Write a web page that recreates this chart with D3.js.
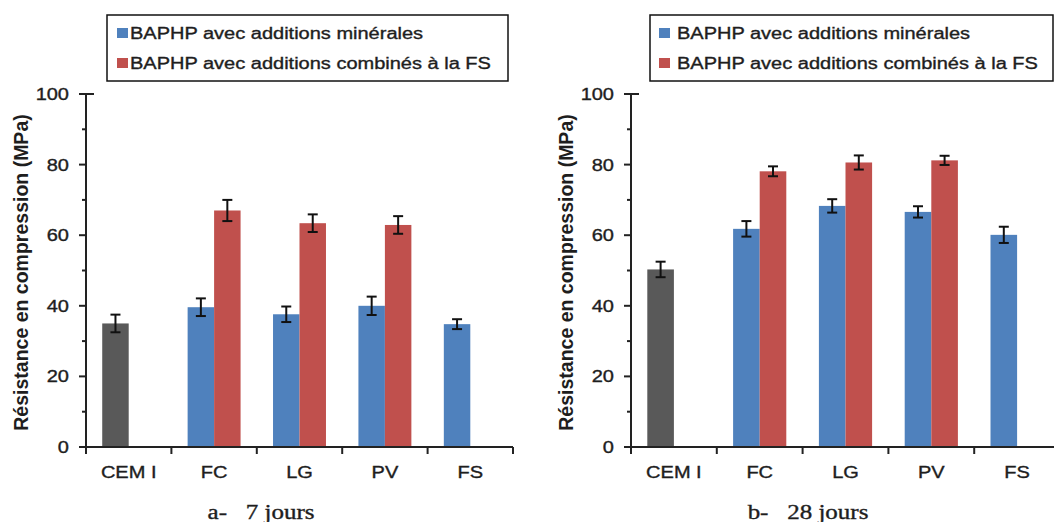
<!DOCTYPE html>
<html>
<head>
<meta charset="utf-8">
<script src="https://cdn.jsdelivr.net/npm/d3@7"></script>
<style>
  body { margin: 0; background: #fff; }
  svg { display: block; }
</style>
</head>
<body>
<svg id="chart" width="1054" height="522"></svg>
<script>
// categories and series
const categories = ["CEM I", "FC", "LG", "PV", "FS"];
const seriesNames = ["BAPHP avec additions minérales", "BAPHP avec additions combinés à la FS"];
const seriesColors = ["#4f81bd", "#c0504d"];
const refColor = "#595959"; // CEM I bar

// 7 days
const min7 = [35, 39.6, 37.6, 40, 34.8];
const min7Err = [2.5, 2.5, 2.2, 2.6, 1.4];
const comb7 = [null, 67, 63.4, 62.9, null];
const comb7Err = [null, 3, 2.5, 2.5, null];

// 28 days
const min28 = [50.3, 61.8, 68.3, 66.6, 60.1];
const min28Err = [2.2, 2.2, 1.9, 1.6, 2.3];
const comb28 = [null, 78.1, 80.6, 81.2, null];
const comb28Err = [null, 1.4, 2, 1.3, null];

const yTicks = [0, 20, 40, 60, 80, 100];
const yMinor = [10, 30, 50, 70, 90];
const yTitle = "Résistance en compression (MPa)";
const captions = ["a-   7 jours", "b-   28 jours"];

const svg = d3.select("#chart");
const SX = 1.25; // text in the source picture is stretched horizontally

function stretchedText(g, x, y, str, size, anchor, opts = {}) {
    return g.append("text")
        .attr("transform", `translate(${x},${y}) scale(${SX},1)`)
        .attr("text-anchor", anchor)
        .attr("font-family", opts.family || "'Liberation Sans', Arial, sans-serif")
        .attr("font-size", size)
        .attr("font-weight", opts.weight || "normal")
        .attr("fill", "#1e1e1e")
        .attr("stroke", "#1e1e1e")
        .attr("stroke-width", 0.35)
        .style("white-space", "pre")
        .text(str);
}

function panel(p) {
    const g = svg.append("g");
    const x = d3.scaleBand().domain(categories).range([p.left, p.right]);
    const y = d3.scaleLinear().domain([0, 100]).range([447, 94]);
    const bw = x.bandwidth() * 0.31;
    const slot = d3.scaleBand().domain([0, 1])
        .range([x.bandwidth() / 2 - bw, x.bandwidth() / 2 + bw]);

    const rows = [];
    categories.forEach((c, i) => {
        rows.push({ c, s: 0, v: p.min[i], e: p.minErr[i], color: i === 0 ? refColor : seriesColors[0] });
        if (p.comb[i] != null) rows.push({ c, s: 1, v: p.comb[i], e: p.combErr[i], color: seriesColors[1] });
    });

    g.append("g").selectAll("rect").data(rows).join("rect")
        .attr("x", d => x(d.c) + slot(d.s))
        .attr("width", slot.bandwidth())
        .attr("y", d => y(d.v))
        .attr("height", d => y(0) - y(d.v))
        .attr("fill", d => d.color);

    // error bars
    const eb = g.append("g").attr("stroke", "#111").attr("stroke-width", 2).attr("fill", "none");
    rows.forEach(d => {
        const cx = x(d.c) + slot(d.s) + slot.bandwidth() / 2;
        eb.append("line").attr("x1", cx).attr("x2", cx).attr("y1", y(d.v - d.e)).attr("y2", y(d.v + d.e));
        [d.v - d.e, d.v + d.e].forEach(v => {
            eb.append("line").attr("x1", cx - 5).attr("x2", cx + 5).attr("y1", y(v)).attr("y2", y(v));
        });
    });

    // y axis
    const ax = g.append("g").attr("stroke", "#222").attr("stroke-width", 2);
    ax.append("line").attr("x1", p.left).attr("x2", p.left).attr("y1", y(100)).attr("y2", y(0));
    yTicks.forEach(t => {
        ax.append("line").attr("x1", p.left - 7).attr("x2", t === 100 ? p.left + 8 : p.left)
            .attr("y1", y(t)).attr("y2", y(t));
        stretchedText(g, p.left - 17, y(t) + 6, String(t), 16, "end");
    });
    yMinor.forEach(t => {
        ax.append("line").attr("x1", p.left - 4).attr("x2", p.left).attr("y1", y(t)).attr("y2", y(t));
    });

    // x axis
    ax.append("line").attr("x1", p.left - 7).attr("x2", p.right).attr("y1", y(0)).attr("y2", y(0));
    categories.concat([null]).forEach((c, i) => {
        const bx = c ? x(c) : p.right;
        ax.append("line").attr("x1", bx).attr("x2", bx).attr("y1", y(0)).attr("y2", y(0) + 7);
        if (c) stretchedText(g, x(c) + x.bandwidth() / 2, 478, c, 16, "middle");
    });

    // y title
    g.append("text")
        .attr("transform", `translate(${p.left - 58},${(y(0) + y(100)) / 2 + 2}) rotate(-90)`)
        .attr("text-anchor", "middle")
        .attr("font-family", "'Liberation Sans', Arial, sans-serif")
        .attr("font-size", 19.5)
        .attr("font-weight", "bold")
        .attr("fill", "#1e1e1e")
        .text(yTitle);

    // caption
    stretchedText(g, p.captionX, 519, p.caption, 20, "middle", { family: "'Liberation Serif', 'Times New Roman', serif" });

    // legend
    const lg = g.append("g");
    lg.append("rect").attr("x", p.legX).attr("y", 15).attr("width", p.legW).attr("height", 66)
        .attr("fill", "#fff").attr("stroke", "#111").attr("stroke-width", 1.5);
    seriesNames.forEach((s, i) => {
        lg.append("rect").attr("x", p.legX + p.markOff).attr("y", 28 + i * 30).attr("width", 11).attr("height", 10)
            .attr("fill", seriesColors[i]);
        stretchedText(lg, p.legX + p.markOff + 13 + (p.textGap || 0), 39 + i * 30, s, 16, "start");
    });
}

panel({ left: 86, right: 513, min: min7, minErr: min7Err, comb: comb7, combErr: comb7Err,
        caption: captions[0], captionX: 261, legX: 107, legW: 401, markOff: 10 });
panel({ left: 631, right: 1060, min: min28, minErr: min28Err, comb: comb28, combErr: comb28Err,
        caption: captions[1], captionX: 808, legX: 650, legW: 403, markOff: 9, textGap: 5 });
</script>
</body>
</html>
